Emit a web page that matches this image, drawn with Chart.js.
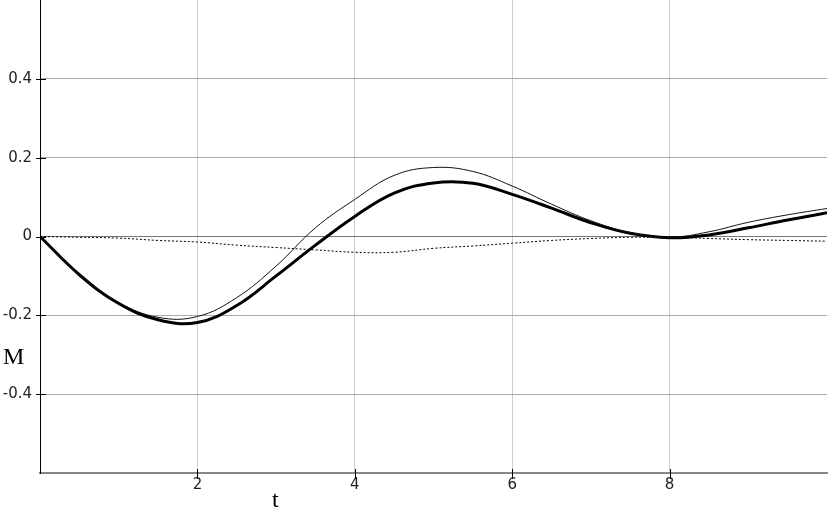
<!DOCTYPE html>
<html>
<head>
<meta charset="utf-8">
<script src="https://cdn.jsdelivr.net/npm/chart.js@4"></script>
<style>
  html, body { margin: 0; padding: 0; background: #fff; }
  #wrap { width: 830px; height: 507px; }
</style>
</head>
<body>
<div id="wrap"><canvas id="chart" width="830" height="507"></canvas></div>
<script>
// time points
const tValues = [0, 0.5, 1, 1.5, 2, 2.5, 3, 3.5, 4, 4.5, 5, 5.5, 6, 6.5, 7, 7.5, 8, 8.5, 9, 9.5, 10];
// thick curve
const mBold = [0, -0.097, -0.17, -0.211, -0.218, -0.175, -0.1, -0.022, 0.051, 0.11, 0.136, 0.135, 0.107, 0.072, 0.035, 0.008, -0.003, 0.004, 0.022, 0.042, 0.06];
// thin curve
const mThin = [0, -0.096, -0.167, -0.205, -0.203, -0.155, -0.075, 0.022, 0.094, 0.155, 0.175, 0.165, 0.128, 0.082, 0.04, 0.01, -0.002, 0.012, 0.036, 0.055, 0.071];
// dotted curve
const mDotted = [0, -0.002, -0.004, -0.01, -0.014, -0.022, -0.028, -0.034, -0.04, -0.04, -0.03, -0.024, -0.017, -0.01, -0.005, -0.002, -0.002, -0.005, -0.008, -0.01, -0.012];

const xTicks = [2, 4, 6, 8];
const yTicks = [-0.4, -0.2, 0, 0.2, 0.4];

const pts = arr => arr.map((v, i) => ({ x: tValues[i], y: v }));

// tick marks crossing the axes + axis letters
const axisDecor = {
  id: "axisDecor",
  afterDraw(chart) {
    const ctx = chart.ctx;
    const xs = chart.scales.x, ys = chart.scales.y;
    const a = chart.chartArea;
    ctx.save();
    ctx.strokeStyle = "#000";
    ctx.lineWidth = 1;
    ctx.beginPath();
    yTicks.forEach(v => {
      const y = Math.round(ys.getPixelForValue(v)) + 0.5;
      ctx.moveTo(a.left - 4, y);
      ctx.lineTo(a.left + 6, y);
    });
    xTicks.forEach(v => {
      const x = Math.round(xs.getPixelForValue(v)) + 0.5;
      ctx.moveTo(x, a.bottom - 4);
      ctx.lineTo(x, a.bottom + 6);
    });
    ctx.stroke();
    ctx.fillStyle = "#000";
    ctx.font = "24px 'Liberation Serif', 'DejaVu Serif', serif";
    ctx.textBaseline = "alphabetic";
    ctx.fillText("M", 3, 364);
    ctx.fillText("t", 272, 507);
    ctx.restore();
  }
};

const ctx = document.getElementById("chart").getContext("2d");
new Chart(ctx, {
  type: "line",
  data: {
    datasets: [
      { data: pts(mThin), borderColor: "#111", borderWidth: 1, pointRadius: 0, tension: 0.4, fill: false },
      { data: pts(mBold), borderColor: "#000", borderWidth: 3, pointRadius: 0, tension: 0.4, fill: false },
      { data: pts(mDotted), borderColor: "#000", borderWidth: 1, borderDash: [2, 2], pointRadius: 0, tension: 0.4, fill: false }
    ]
  },
  options: {
    responsive: false,
    animation: false,
    layout: { padding: { left: 0, right: 3, top: 0, bottom: 0 } },
    plugins: { legend: { display: false }, tooltip: { enabled: false } },
    scales: {
      x: {
        type: "linear",
        min: 0,
        max: 10,
        afterBuildTicks: s => { s.ticks = xTicks.map(v => ({ value: v })); },
        afterFit: s => { s.height = 34; },
        grid: { color: "#cfcfcf", lineWidth: 1, drawTicks: false },
        border: { display: true, color: "#888", width: 2 },
        ticks: { padding: 3, color: "#222", font: { family: "'DejaVu Sans', sans-serif", size: 15 } }
      },
      y: {
        min: -0.6,
        max: 0.6,
        afterBuildTicks: s => { s.ticks = yTicks.map(v => ({ value: v })); },
        afterFit: s => { s.width = 40; s.paddingTop = 0; s.paddingBottom = 0; },
        grid: {
          color: c => (c.tick && c.tick.value === 0 ? "#777" : "#aaa"),
          lineWidth: 1,
          drawTicks: false
        },
        border: { display: true, color: "#000", width: 1 },
        ticks: {
          padding: 8,
          color: "#222",
          font: { family: "'DejaVu Sans', sans-serif", size: 15 },
          callback: v => (v === 0 ? "0" : String(Math.round(v * 10) / 10))
        }
      }
    }
  },
  plugins: [axisDecor]
});
</script>
</body>
</html>
